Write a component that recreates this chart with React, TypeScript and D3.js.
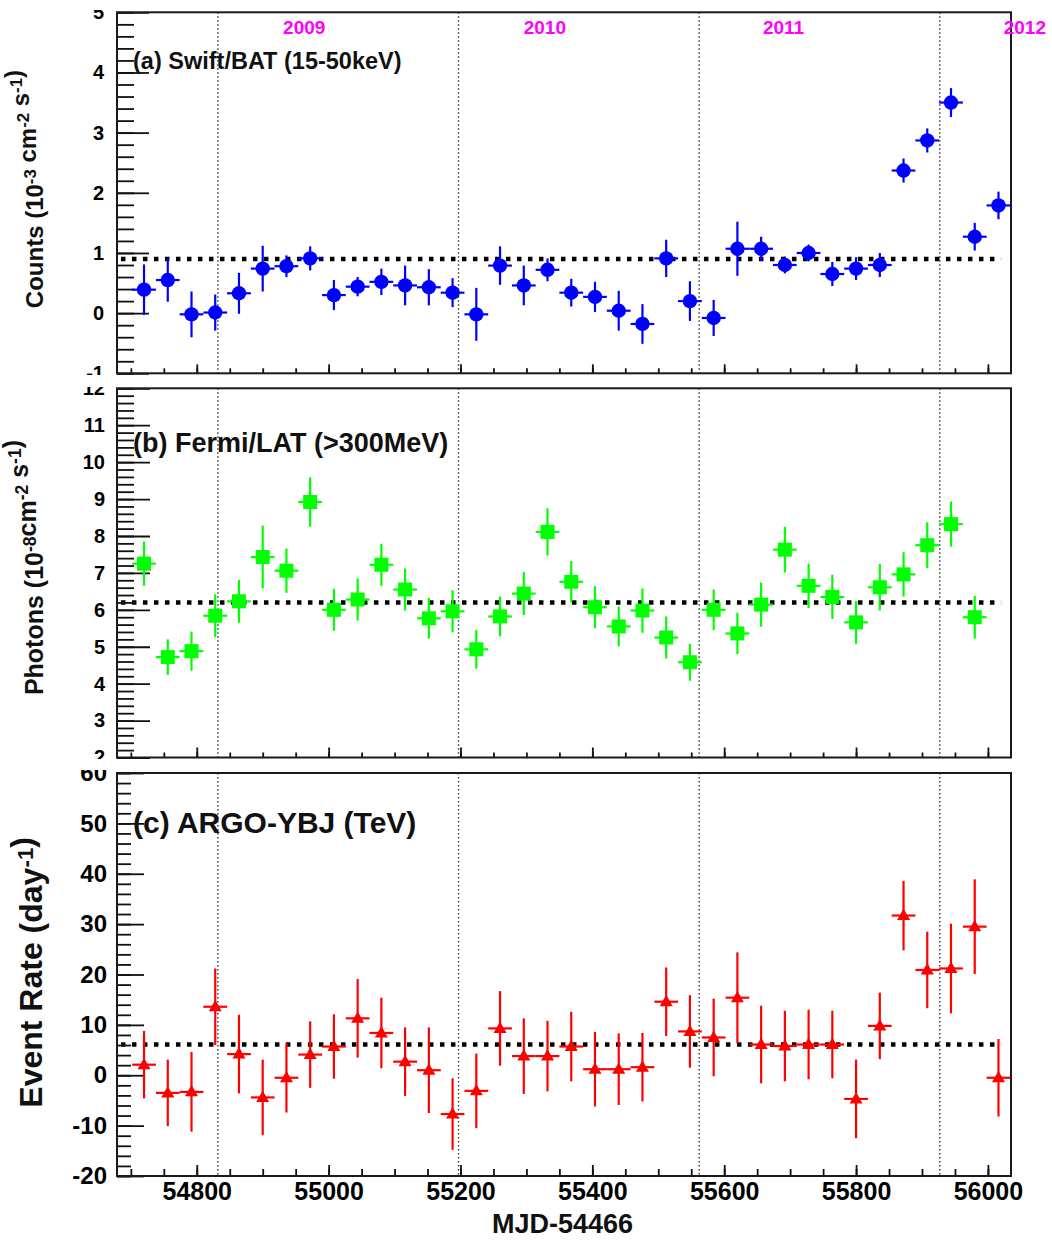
import { useEffect, useRef } from 'react';
import * as d3 from 'd3';

// bin centres (MJD), 36-day bins
const binMjd = [
  54720, 54756, 54792, 54828, 54864, 54900, 54936, 54972, 55008, 55044,
  55080, 55116, 55152, 55188, 55224, 55260, 55296, 55332, 55368, 55404,
  55440, 55476, 55512, 55548, 55584, 55620, 55656, 55692, 55728, 55764,
  55800, 55836, 55872, 55908, 55944, 55980, 56016,
];
const binHalfWidth = 18;

// (a) Swift/BAT 15-50 keV, 1e-3 cm^-2 s^-1
const batRate = [
  0.39, 0.55, -0.02, 0.01, 0.33, 0.74, 0.78, 0.91, 0.30, 0.44,
  0.52, 0.46, 0.43, 0.34, -0.02, 0.79, 0.46, 0.72, 0.34, 0.27,
  0.04, -0.18, 0.91, 0.20, -0.08, 1.07, 1.07, 0.80, 1.00, 0.65,
  0.74, 0.80, 2.37, 2.87, 3.50, 1.27, 1.79,
];
const batErr = [
  0.42, 0.36, 0.38, 0.30, 0.34, 0.38, 0.18, 0.20, 0.25, 0.16,
  0.22, 0.33, 0.30, 0.24, 0.44, 0.32, 0.33, 0.19, 0.23, 0.25,
  0.33, 0.33, 0.31, 0.33, 0.30, 0.45, 0.20, 0.14, 0.14, 0.20,
  0.19, 0.20, 0.20, 0.20, 0.24, 0.23, 0.23,
];
const batMean = 0.9;

// (b) Fermi/LAT >300 MeV, 1e-8 cm^-2 s^-1 (no last bin)
const latFlux = [
  7.25, 4.72, 4.88, 5.84, 6.23, 7.43, 7.06, 8.92, 6.00, 6.28,
  7.22, 6.55, 5.77, 5.96, 4.93, 5.82, 6.44, 8.11, 6.76, 6.07,
  5.55, 5.98, 5.25, 4.58, 6.00, 5.36, 6.14, 7.63, 6.65, 6.35,
  5.66, 6.61, 6.96, 7.75, 8.32, 5.80,
];
const latErr = [
  0.60, 0.48, 0.53, 0.58, 0.58, 0.85, 0.60, 0.67, 0.57, 0.57,
  0.57, 0.57, 0.55, 0.57, 0.52, 0.54, 0.58, 0.64, 0.56, 0.57,
  0.54, 0.60, 0.57, 0.50, 0.55, 0.56, 0.60, 0.62, 0.60, 0.60,
  0.58, 0.63, 0.60, 0.62, 0.61, 0.58,
];
const latMean = 6.2;

// (c) ARGO-YBJ TeV, events/day
const argoRate = [
  2.1, -3.5, -3.3, 13.6, 4.2, -4.4, -0.5, 4.1, 5.7, 11.3,
  8.4, 2.7, 1.0, -7.7, -3.1, 9.3, 3.8, 3.8, 5.7, 1.2,
  1.2, 1.6, 14.6, 8.7, 7.5, 15.4, 6.1, 5.8, 6.1, 6.1,
  -4.7, 9.8, 31.7, 20.9, 21.2, 29.5, -0.5,
];
const argoErr = [
  6.7, 6.6, 7.9, 7.6, 7.8, 7.5, 6.9, 6.6, 6.4, 7.8,
  7.0, 6.8, 8.5, 7.1, 7.4, 7.4, 7.5, 7.0, 6.9, 7.4,
  7.1, 6.8, 6.8, 7.2, 7.7, 9.0, 7.7, 7.0, 6.9, 6.7,
  7.8, 6.6, 6.9, 7.6, 8.9, 9.4, 7.7,
];
const argoMean = 6.1;

// calendar
const yearStartMjd = [54832, 55197, 55562, 55927];
const yearNames = ['2009', '2010', '2011', '2012'];
const yearLabelMjd = [54963, 55328, 55690, 56056];

const xTicks = [54800, 55000, 55200, 55400, 55600, 55800, 56000];
const batTicks = [-1, 0, 1, 2, 3, 4, 5];
const latTicks = [2, 3, 4, 5, 6, 7, 8, 9, 10, 11, 12];
const argoTicks = [-20, -10, 0, 10, 20, 30, 40, 50, 60];

const FONT = "'Liberation Sans', Arial, Helvetica, sans-serif";

type Marker = 'circle' | 'square' | 'triangle';

interface PanelCfg {
  id: string;
  top: number;
  bottom: number;
  clipTop: number;
  clipBottom: number;
  domain: [number, number];
  majors: number[];
  minorStep: number;
  values: number[];
  errors: number[];
  mean: number;
  color: string;
  marker: Marker;
  labelSize: number;
  yTickMajor: number;
  yTickMinor: number;
  yLabelX: number;
  xTickMajor: number;
  xTickMinor: number;
  showXLabels: boolean;
  tag: string;
  tagY: number;
  tagSize: number;
  title: [string, string][]; // [text, superscript]
  titleX: number;
  titleTop: number;
  titleSize: number;
}

export default function App() {
  const svgRef = useRef<SVGSVGElement>(null);

  useEffect(() => {
    if (!svgRef.current) return;
    const svg = d3.select(svgRef.current);
    svg.selectAll('*').remove();

    const x = d3.scaleLinear().domain([54679, 56035]).range([117, 1011]);
    const xMinor = d3.range(54700, 56035, 50);

    const panels: PanelCfg[] = [
      {
        id: 'a', top: 12.3, bottom: 373.3, clipTop: 10, clipBottom: 375,
        domain: [-1, 5], majors: batTicks, minorStep: 0.2,
        values: batRate, errors: batErr, mean: batMean, color: '#0000ff', marker: 'circle',
        labelSize: 20, yTickMajor: 32, yTickMinor: 17, yLabelX: 104,
        xTickMajor: 9, xTickMinor: 5, showXLabels: false,
        tag: '(a) Swift/BAT (15-50keV)', tagY: 69, tagSize: 23.5,
        title: [['Counts (10', '-3'], [' cm', '-2'], [' s', '-1'], [')', '']],
        titleX: 43, titleTop: 70, titleSize: 24,
      },
      {
        id: 'b', top: 388.3, bottom: 757.5, clipTop: 387, clipBottom: 759,
        domain: [2, 12], majors: latTicks, minorStep: 0.2,
        values: latFlux, errors: latErr, mean: latMean, color: '#00ff00', marker: 'square',
        labelSize: 20, yTickMajor: 33, yTickMinor: 17, yLabelX: 105,
        xTickMajor: 10, xTickMinor: 5, showXLabels: false,
        tag: '(b) Fermi/LAT (>300MeV)', tagY: 452, tagSize: 27,
        title: [['Photons (10', '-8'], ['cm', '-2'], [' s', '-1'], [')', '']],
        titleX: 43, titleTop: 440, titleSize: 25,
      },
      {
        id: 'c', top: 773, bottom: 1176, clipTop: 770, clipBottom: 1241,
        domain: [-20, 60], majors: argoTicks, minorStep: 2,
        values: argoRate, errors: argoErr, mean: argoMean, color: '#ff0000', marker: 'triangle',
        labelSize: 24, yTickMajor: 27, yTickMinor: 14, yLabelX: 107,
        xTickMajor: 11, xTickMinor: 7, showXLabels: true,
        tag: '(c) ARGO-YBJ (TeV)', tagY: 833, tagSize: 30,
        title: [['Event Rate (day', '-1'], [')', '']],
        titleX: 42, titleTop: 837, titleSize: 32,
      },
    ];

    const defs = svg.append('defs');

    panels.forEach((p) => {
      defs.append('clipPath').attr('id', `pad-${p.id}`)
        .append('rect').attr('x', 0).attr('y', p.clipTop)
        .attr('width', 1052).attr('height', p.clipBottom - p.clipTop);

      const y = d3.scaleLinear().domain(p.domain).range([p.bottom, p.top]);
      const g = svg.append('g').attr('clip-path', `url(#pad-${p.id})`);

      // year boundaries
      g.selectAll('.year')
        .data(yearStartMjd)
        .enter().append('line')
        .attr('x1', (d) => x(d)).attr('x2', (d) => x(d))
        .attr('y1', p.top).attr('y2', p.bottom)
        .attr('stroke', '#333').attr('stroke-width', 1.4)
        .attr('stroke-dasharray', '1.5,2.5');

      // mean level
      g.append('line')
        .attr('x1', x(54685)).attr('x2', x(56020))
        .attr('y1', y(p.mean)).attr('y2', y(p.mean))
        .attr('stroke', '#000').attr('stroke-width', 4.5)
        .attr('stroke-dasharray', '4.5,6.5');

      // y axis: minor then major, ticks pointing inwards
      const minors = d3.range(p.domain[0], p.domain[1] + 1e-9, p.minorStep);
      const yMinorAxis = g.append('g').attr('transform', `translate(${x.range()[0]},0)`)
        .call(d3.axisLeft(y).tickValues(minors).tickSize(-p.yTickMinor).tickFormat(() => ''));
      const yMajorAxis = g.append('g').attr('transform', `translate(${x.range()[0]},0)`)
        .call(d3.axisLeft(y).tickValues(p.majors).tickSize(-p.yTickMajor).tickPadding(117 - p.yLabelX)
          .tickFormat((v) => `${v}`));
      [yMinorAxis, yMajorAxis].forEach((a) => {
        a.select('.domain').remove();
        a.selectAll('line').attr('stroke', '#111').attr('stroke-width', 1.8);
      });
      yMajorAxis.selectAll('text')
        .attr('fill', '#000')
        .attr('font-family', FONT)
        .attr('font-weight', 'bold')
        .attr('font-size', p.labelSize);

      // x axis
      const xMinorAxis = g.append('g').attr('transform', `translate(0,${p.bottom})`)
        .call(d3.axisBottom(x).tickValues(xMinor).tickSize(-p.xTickMinor).tickFormat(() => ''));
      const xMajorAxis = g.append('g').attr('transform', `translate(0,${p.bottom})`)
        .call(d3.axisBottom(x).tickValues(xTicks).tickSize(-p.xTickMajor).tickPadding(8)
          .tickFormat((v) => (p.showXLabels ? `${v}` : '')));
      [xMinorAxis, xMajorAxis].forEach((a) => {
        a.select('.domain').remove();
        a.selectAll('line').attr('stroke', '#111').attr('stroke-width', 1.8);
      });
      xMajorAxis.selectAll('text')
        .attr('fill', '#000')
        .attr('font-family', FONT)
        .attr('font-weight', 'bold')
        .attr('font-size', 25)
        .attr('dy', '0.62em');

      // frame
      g.append('rect')
        .attr('x', x.range()[0]).attr('y', p.top)
        .attr('width', x.range()[1] - x.range()[0]).attr('height', p.bottom - p.top)
        .attr('fill', 'none').attr('stroke', '#1a1a1a').attr('stroke-width', 2);

      // data
      const pts = p.values.map((v, i) => ({ t: binMjd[i], v, e: p.errors[i] }));
      const eg = g.append('g').attr('stroke', p.color).attr('stroke-width', 2.2);
      eg.selectAll('.ey').data(pts).enter().append('line')
        .attr('x1', (d) => x(d.t)).attr('x2', (d) => x(d.t))
        .attr('y1', (d) => y(d.v - d.e)).attr('y2', (d) => y(d.v + d.e));
      eg.selectAll('.ex').data(pts).enter().append('line')
        .attr('x1', (d) => x(d.t - binHalfWidth)).attr('x2', (d) => x(d.t + binHalfWidth))
        .attr('y1', (d) => y(d.v)).attr('y2', (d) => y(d.v));

      const mg = g.append('g').attr('fill', p.color);
      if (p.marker === 'circle') {
        mg.selectAll('circle').data(pts).enter().append('circle')
          .attr('cx', (d) => x(d.t)).attr('cy', (d) => y(d.v)).attr('r', 7.2);
      } else if (p.marker === 'square') {
        mg.selectAll('rect').data(pts).enter().append('rect')
          .attr('x', (d) => x(d.t) - 7).attr('y', (d) => y(d.v) - 7)
          .attr('width', 14).attr('height', 14);
      } else {
        mg.selectAll('path').data(pts).enter().append('path')
          .attr('d', (d) => {
            const cx = x(d.t);
            const cy = y(d.v);
            return `M${cx},${cy - 7}L${cx + 6.5},${cy + 4.5}L${cx - 6.5},${cy + 4.5}Z`;
          });
      }

      // panel tag
      svg.append('text')
        .attr('x', 133).attr('y', p.tagY)
        .attr('font-family', FONT).attr('font-weight', 'bold')
        .attr('font-size', p.tagSize).attr('fill', '#111')
        .text(p.tag);

      // y title (rotated, right-aligned to the top)
      const tt = svg.append('text')
        .attr('transform', `translate(${p.titleX},${p.titleTop}) rotate(-90)`)
        .attr('text-anchor', 'end')
        .attr('font-family', FONT).attr('font-weight', 'bold')
        .attr('font-size', p.titleSize).attr('fill', '#111');
      p.title.forEach(([txt, sup]) => {
        tt.append('tspan').attr('dy', 0).text(txt);
        if (sup) {
          tt.append('tspan').attr('dy', '-0.42em').attr('font-size', '0.7em').text(sup);
          tt.append('tspan').attr('dy', '0.42em').text('');
        }
      });
    });

    // year labels across the top
    svg.selectAll('.yr')
      .data(yearNames)
      .enter().append('text')
      .attr('x', (_, i) => x(yearLabelMjd[i]))
      .attr('y', 34)
      .attr('text-anchor', 'middle')
      .attr('font-family', FONT).attr('font-weight', 'bold')
      .attr('font-size', 19).attr('fill', '#ff00ff')
      .text((d) => d);

    // x title
    svg.append('text')
      .attr('x', 633).attr('y', 1233)
      .attr('text-anchor', 'end')
      .attr('font-family', FONT).attr('font-weight', 'bold')
      .attr('font-size', 27).attr('fill', '#111')
      .text('MJD-54466');
  }, []);

  return (
    <svg
      ref={svgRef}
      width={1052}
      height={1241}
      style={{ position: 'absolute', left: 0, top: 0, display: 'block', background: '#fff' }}
    />
  );
}
